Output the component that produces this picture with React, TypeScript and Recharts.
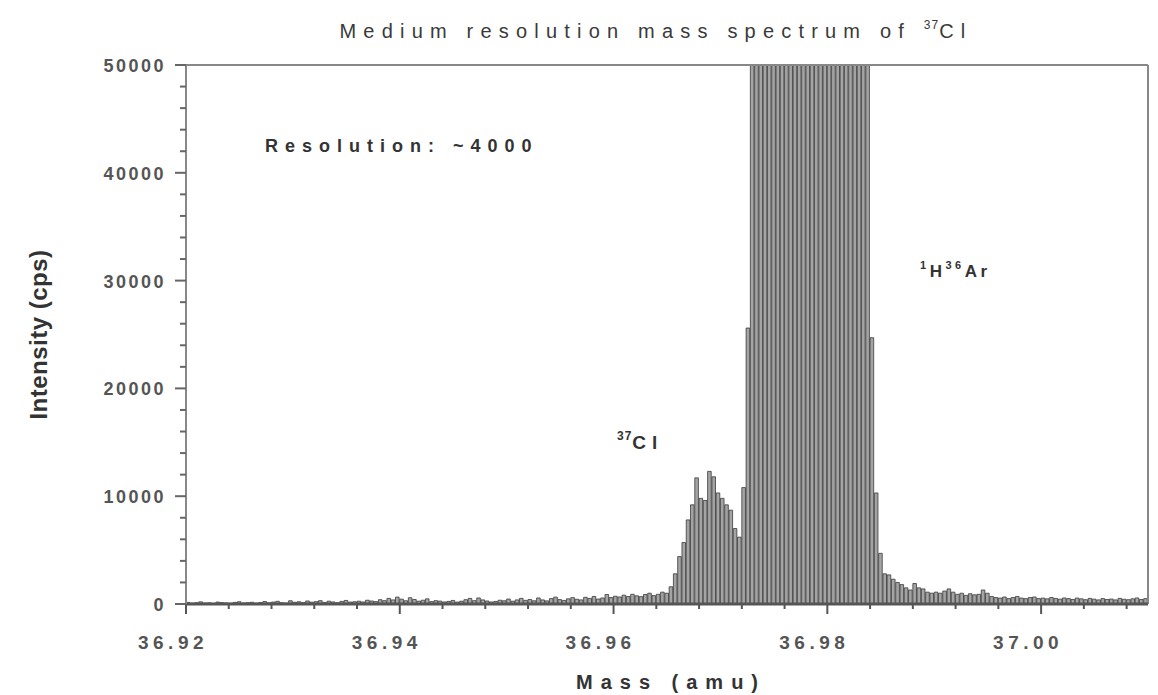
import React from 'react';
import { ComposedChart, Bar, XAxis, YAxis, ReferenceLine, Customized } from 'recharts';

// scan grid of the spectrometer (amu)
const massStart = 36.9202;
const massStep = 0.0004;

// intensities (cps), left to right
const baselineLeft = [
  150, 80, 120, 200, 90, 110, 60, 180, 130, 100, 70, 150, 210, 90, 120, 160, 80, 140, 230, 110,
  180, 250, 120, 90, 300, 160, 210, 130, 280, 170, 220, 310, 150, 260, 190, 120, 240, 330, 180, 210,
  260, 190, 350, 280, 220, 400, 310, 520, 380, 640, 450, 300, 580, 420, 260, 350, 480, 220, 310, 270,
  190, 240, 330, 180, 260, 400, 520, 310, 560, 380, 280, 190, 240, 350, 300, 460, 260, 380, 520, 340,
  420, 300, 560, 380, 290, 500, 640, 410, 330, 480, 590, 440, 380, 620, 520, 700, 460, 560, 880, 600,
  720, 650, 820, 700, 900, 760, 680, 880, 1000, 780, 900, 1100, 1000,
];
const clPeak = [
  1600, 2800, 4400, 5700, 7800, 9200, 11700, 9800, 9600, 12300, 11800, 10300, 9800, 9200, 8700,
  7000, 6200, 10800,
];
const arPeak = [
  25600, 52000, 68000, 85000, 102000, 118000, 132000, 145000, 156000, 164000, 170000, 174000,
  176000, 175000, 172000, 167000, 160000, 151000, 141000, 129000, 116000, 102000, 89000, 76000,
  65000, 58000, 54000, 52000, 51000, 24700, 10300, 4700,
];
const tailRight = [
  2800, 2700, 2300, 2000, 1800, 1500, 1300, 1900, 1500, 1400, 1100, 1000, 1100, 1000, 1200, 1400,
  1100, 900, 1000, 800, 950, 850, 900, 1300, 1000, 700, 600, 550,
  650, 500, 600, 700, 550, 500, 600, 650, 500, 550, 480, 600, 520, 450, 560, 500, 420, 550, 480,
  400, 520, 450, 380, 500, 420, 460, 380, 520, 440, 400, 480, 560, 420, 500,
];

const xTicks = [
  36.92, 36.924, 36.928, 36.932, 36.936, 36.94, 36.944, 36.948, 36.952, 36.956, 36.96, 36.964,
  36.968, 36.972, 36.976, 36.98, 36.984, 36.988, 36.992, 36.996, 37.0, 37.004, 37.008,
];
const yTicks = [
  0, 2000, 4000, 6000, 8000, 10000, 12000, 14000, 16000, 18000, 20000, 22000, 24000, 26000,
  28000, 30000, 32000, 34000, 36000, 38000, 40000, 42000, 44000, 46000, 48000, 50000,
];

const intensity = [...baselineLeft, ...clPeak, ...arPeak, ...tailRight];
const data = intensity.map((v, i) => ({
  mass: +(massStart + i * massStep).toFixed(4),
  intensity: v,
}));

const FONT = '"Liberation Sans", Arial, sans-serif';

const isMajorX = (v: number) => Math.abs(v * 50 - Math.round(v * 50)) < 1e-6;

const XTick = (props: any) => {
  const { x, y, payload } = props;
  const major = isMajorX(payload.value);
  return (
    <g>
      <line x1={x} x2={x} y1={y} y2={y + (major ? 10 : 5)} stroke="#555" strokeWidth={2} />
      {major && (
        <text x={x - 13} y={y + 45} textAnchor="middle" fontSize={19} fontWeight="bold"
          fill="#555" fontFamily={FONT} letterSpacing={4.5}>
          {payload.value.toFixed(2)}
        </text>
      )}
    </g>
  );
};

const YTick = (props: any) => {
  const { x, y, payload } = props;
  const major = payload.value % 10000 === 0;
  return (
    <g>
      <line x1={x - (major ? 11 : 6)} x2={x} y1={y} y2={y} stroke="#666" strokeWidth={2} />
      {major && (
        <text x={x - 20} y={y + 7} textAnchor="end" fontSize={18} fontWeight="bold"
          fill="#555" fontFamily={FONT} letterSpacing={2.5}>
          {payload.value}
        </text>
      )}
    </g>
  );
};

const Annotations = () => (
  <g fontFamily={FONT}>
    <text x={656} y={38} textAnchor="middle" fontSize={20} fill="#3a3a3a" letterSpacing={7.2}>
      Medium resolution mass spectrum of{' '}
      <tspan fontSize={12} dy={-9} letterSpacing={1}>37</tspan>
      <tspan dy={9}>Cl</tspan>
    </text>
    <text x={265} y={152} fontSize={18} fontWeight="bold" fill="#333" letterSpacing={7}>
      Resolution: ~4000
    </text>
    <text x={617} y={449} fontSize={19} fontWeight="bold" fill="#333">
      <tspan fontSize={12} dy={-9} letterSpacing={1}>37</tspan>
      <tspan dy={9} letterSpacing={6}>Cl</tspan>
    </text>
    <text x={920} y={277} fontSize={17} fontWeight="bold" fill="#333" letterSpacing={3.5}>
      <tspan fontSize={11} dy={-8}>1</tspan>
      <tspan dy={8}>H</tspan>
      <tspan fontSize={11} dy={-8}>36</tspan>
      <tspan dy={8}>Ar</tspan>
    </text>
  </g>
);

export default function App() {
  return (
    <div style={{ position: 'absolute', left: 0, top: 0, background: '#fff' }}>
      <ComposedChart
        width={1158}
        height={695}
        data={data}
        margin={{ top: 65, right: 10, bottom: 0, left: 0 }}
      >
        <XAxis
          dataKey="mass"
          type="number"
          domain={[36.92, 37.01]}
          ticks={xTicks}
          interval={0}
          height={91}
          tickSize={0}
          tickMargin={0}
          tickLine={false}
          tick={XTick}
          axisLine={{ stroke: '#555', strokeWidth: 3 }}
          label={{
            value: 'Mass (amu)',
            position: 'insideBottom',
            offset: 6,
            fontSize: 20,
            fontWeight: 'bold',
            fill: '#333',
            fontFamily: FONT,
            letterSpacing: 8,
            dx: 4,
          }}
        />
        <YAxis
          type="number"
          domain={[0, 50000]}
          allowDataOverflow
          ticks={yTicks}
          interval={0}
          width={186}
          tickSize={0}
          tickMargin={0}
          tickLine={false}
          tick={YTick}
          axisLine={{ stroke: '#888', strokeWidth: 2 }}
          label={{
            value: 'Intensity (cps)',
            angle: -90,
            position: 'insideLeft',
            offset: 38,
            fontSize: 24,
            fontWeight: 'bold',
            fill: '#333',
            fontFamily: FONT,
            letterSpacing: 0.5,
            style: { textAnchor: 'middle' },
          }}
        />
        <ReferenceLine y={50000} stroke="#888" strokeWidth={2} />
        <ReferenceLine x={37.01} stroke="#888" strokeWidth={2} />
        <Bar
          dataKey="intensity"
          isAnimationActive={false}
          barSize={3.6}
          fill="#a4a4a4"
          stroke="#3a3a3a"
          strokeWidth={0.8}
        />
        <Customized component={Annotations} />
      </ComposedChart>
    </div>
  );
}
